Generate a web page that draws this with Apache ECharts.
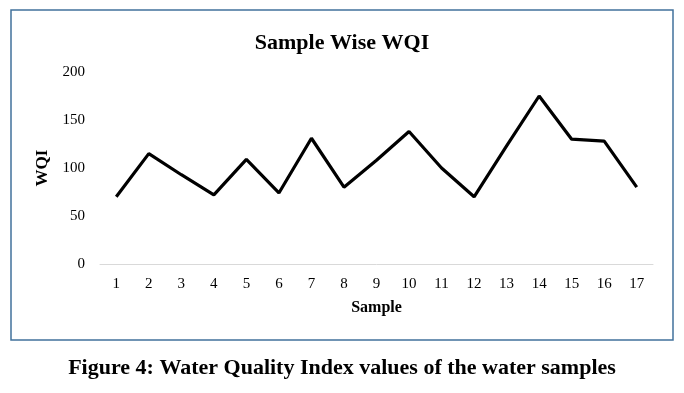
<!DOCTYPE html>
<html>
<head>
<meta charset="utf-8">
<script src="https://cdn.jsdelivr.net/npm/echarts@6/dist/echarts.min.js"></script>
<style>
html,body{margin:0;padding:0;background:#fff;}
#chart{width:684px;height:393px;}
</style>
</head>
<body>
<div id="chart"></div>
<script>
const categories = ['1','2','3','4','5','6','7','8','9','10','11','12','13','14','15','16','17'];
const wqiValues = [70, 115, 93, 72, 109, 74, 131, 80, 108, 138, 100, 70, 123, 175, 130, 128, 80];
const yTicks = [0, 50, 100, 150, 200];
const chartTitle = 'Sample Wise WQI';
const caption = 'Figure 4: Water Quality Index values of the water samples';

const serif = '"Liberation Serif", "Times New Roman", serif';
const chart = echarts.init(document.getElementById('chart'));
chart.setOption({
  animation: false,
  backgroundColor: '#fff',
  title: {
    text: chartTitle,
    left: 'center',
    top: 27,
    textStyle: { fontFamily: serif, fontWeight: 'bold', fontSize: 22, color: '#000' }
  },
  grid: { left: 100, right: 31, top: 72, bottom: 129 },
  xAxis: {
    type: 'category',
    data: categories,
    boundaryGap: true,
    name: 'Sample',
    nameLocation: 'middle',
    nameGap: 36,
    nameTextStyle: { fontFamily: serif, fontWeight: 'bold', fontSize: 16, color: '#000' },
    axisLine: { show: true, lineStyle: { color: '#d9d9d9', width: 1 } },
    axisTick: { show: false },
    axisLabel: { fontFamily: serif, fontSize: 15, color: '#000', margin: 13 }
  },
  yAxis: {
    type: 'value',
    min: yTicks[0],
    max: yTicks[yTicks.length - 1],
    interval: 50,
    name: 'WQI',
    nameLocation: 'middle',
    nameGap: 41,
    nameRotate: 90,
    nameTextStyle: { fontFamily: serif, fontWeight: 'bold', fontSize: 17, color: '#000' },
    axisLine: { show: false },
    axisTick: { show: false },
    splitLine: { show: false },
    axisLabel: { fontFamily: serif, fontSize: 15, color: '#000', margin: 15 }
  },
  series: [{
    type: 'line',
    data: wqiValues,
    showSymbol: false,
    lineStyle: { color: '#000', width: 3.2 },
    itemStyle: { color: '#000' }
  }],
  graphic: [
    {
      type: 'rect',
      shape: { x: 11, y: 10, width: 662, height: 330 },
      style: { fill: 'none', stroke: '#41719c', lineWidth: 1.5 },
      silent: true
    },
    {
      type: 'text',
      x: 342,
      y: 368,
      style: {
        text: caption,
        fontFamily: serif,
        fontWeight: 'bold',
        fontSize: 22,
        fill: '#000',
        align: 'center',
        verticalAlign: 'middle'
      }
    }
  ]
});
</script>
</body>
</html>
